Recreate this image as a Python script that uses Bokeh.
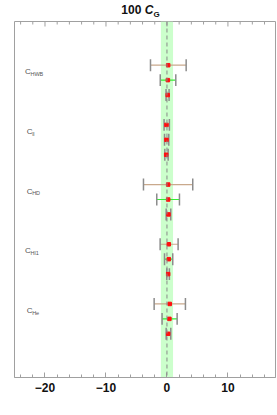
from bokeh.plotting import figure
from bokeh.models import Range1d, Span, BoxAnnotation, Label, ColumnDataSource, FixedTicker, Div
from bokeh.layouts import column
from bokeh.embed import file_html
from bokeh.resources import INLINE

# ---- data ----
operators = ["HWB", "ll", "HD", "Hl1", "He"]
series_names = ["wide", "medium", "narrow"]
series_colors = ["#c9a98c", "#33ee33", "#333333"]
central = [
    [0.2, -0.08, 0.2, 0.3, 0.46],
    [0.15, -0.08, 0.2, 0.3, 0.4],
    [0.13, -0.13, 0.25, 0.2, 0.2],
]
lower = [
    [-2.7, -0.47, -3.85, -1.12, -2.1],
    [-1.1, -0.4, -1.67, -0.4, -0.8],
    [-0.15, -0.35, -0.13, -0.03, -0.13],
]
upper = [
    [3.15, 0.4, 4.23, 1.83, 3.03],
    [1.45, 0.3, 2.05, 0.95, 1.67],
    [0.35, 0.2, 0.63, 0.4, 0.63],
]
band = [-1.0, 1.0]
major_ticks = [-20, -10, 0, 10]
minor_ticks = list(range(-24, 19, 2))
tick_text = {-20: "\u221220", -10: "\u221210", 0: "0", 10: "10"}
title_parts = ["100", "C", "G"]

FONT = "Liberation Sans"
Y0, Y1 = -11.93, 11.93
PX_PER_Y = 356 / (Y1 - Y0)

p = figure(width=276, height=387, output_backend="svg", toolbar_location=None,
           x_range=Range1d(-25, 17.8), y_range=Range1d(Y0, Y1),
           min_border_left=14, min_border_right=1, min_border_top=4, min_border_bottom=27)
p.background_fill_color = "white"
p.border_fill_color = "white"
p.outline_line_color = "#a0a0a0"
p.xgrid.visible = False
p.ygrid.visible = False
p.yaxis.visible = False

# bottom axis
ax = p.xaxis[0]
ax.ticker = FixedTicker(ticks=major_ticks, minor_ticks=minor_ticks)
ax.major_label_overrides = tick_text
ax.major_label_text_font = FONT
ax.major_label_text_font_style = "bold"
ax.major_label_text_font_size = "12px"
ax.major_label_text_color = "#111111"
ax.major_tick_in = 5
ax.major_tick_out = 0
ax.minor_tick_in = 3
ax.minor_tick_out = 0
ax.axis_line_color = "#a0a0a0"
ax.major_tick_line_color = "#a0a0a0"
ax.minor_tick_line_color = "#a0a0a0"
ax.major_label_standoff = 5

# mirrored ticks along the top edge of the frame, from the same tick lists
p.segment(x0=major_ticks, x1=major_ticks, y0=[Y1] * len(major_ticks),
          y1=[Y1 - 5 / PX_PER_Y] * len(major_ticks), line_color="#a0a0a0", line_width=1)
minor_only = [t for t in minor_ticks if t not in major_ticks]
p.segment(x0=minor_only, x1=minor_only, y0=[Y1] * len(minor_only),
          y1=[Y1 - 3 / PX_PER_Y] * len(minor_only), line_color="#a0a0a0", line_width=1)

# band and zero line
p.add_layout(BoxAnnotation(left=band[0], right=band[1], fill_color="#ccffcc", fill_alpha=1.0,
                           line_color=None, level="underlay"))
p.add_layout(Span(location=0, dimension="height", line_color="#888888", line_dash="4 3",
                  line_width=1))

# error bars
offsets = [1, 0, -1]
cap_half = 0.4
for s in range(3):
    ys = [8 - 4 * i + offsets[s] for i in range(len(operators))]
    src = ColumnDataSource(dict(y=ys, c=central[s], lo=lower[s], hi=upper[s],
                                y0=[y - cap_half for y in ys], y1=[y + cap_half for y in ys]))
    p.segment(x0="lo", x1="hi", y0="y", y1="y", source=src, line_color=series_colors[s], line_width=1.2)
    p.segment(x0="lo", x1="lo", y0="y0", y1="y1", source=src, line_color="#8c8c8c", line_width=1.5)
    p.segment(x0="hi", x1="hi", y0="y0", y1="y1", source=src, line_color="#8c8c8c", line_width=1.5)
    p.scatter(x="c", y="y", source=src, marker="square", size=3.5, fill_color="#ff1010",
              line_color="#ff1010")

# operator labels
char_w = 3.4
for i, op in enumerate(operators):
    yc = 8 - 4 * i + 0.55
    total = 5.5 + char_w * len(op)
    xo = -total / 2
    p.add_layout(Label(x=-22, y=yc, x_offset=xo, text="C", text_font=FONT, text_font_size="8px",
                       text_color="#555555", text_baseline="middle", text_align="left"))
    p.add_layout(Label(x=-22, y=yc, x_offset=xo + 5.5, y_offset=-2, text=op, text_font=FONT,
                       text_font_size="5.5px", text_color="#555555", text_baseline="middle",
                       text_align="left"))

# title (mixed styles, as HTML text)
title_html = ('<b>%s <i>%s</i><sub style="font-size:8px; line-height:0">%s</sub></b>'
              % (title_parts[0], title_parts[1], title_parts[2]))
title = Div(text=title_html, width=276, height=14, margin=(3, 0, 0, 0),
            styles={"font-family": FONT, "font-size": "12px", "color": "#111111",
                    "text-align": "center", "padding-left": "5px", "line-height": "14px",
                    "overflow": "visible"})

layout = column(title, p, spacing=0)
open("out.html", "w").write(file_html(layout, INLINE))
